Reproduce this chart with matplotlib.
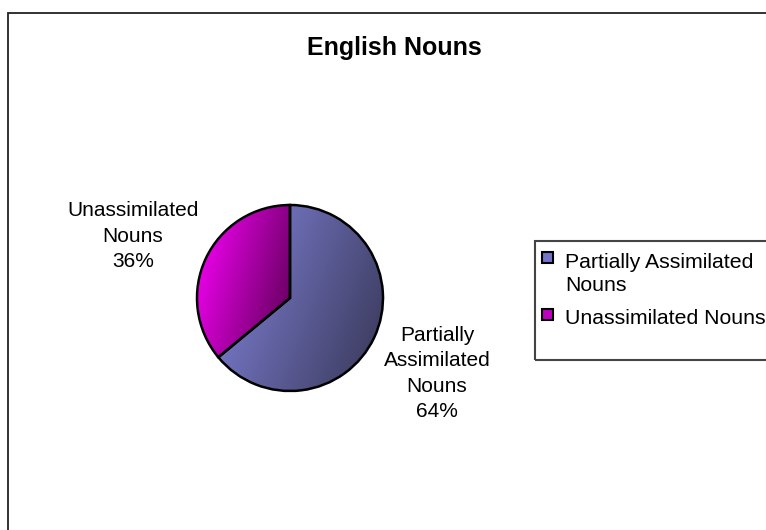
import numpy as np
import matplotlib.pyplot as plt
from matplotlib.colors import LinearSegmentedColormap
from matplotlib.patches import Rectangle

plt.rcParams['font.family'] = ['Liberation Sans', 'DejaVu Sans']

title = 'English Nouns'
categories = ['Partially Assimilated Nouns', 'Unassimilated Nouns']
pie_labels = ['Partially\nAssimilated\nNouns', 'Unassimilated\nNouns']
shares = [64, 36]
legend_labels = ['Partially Assimilated\nNouns', 'Unassimilated Nouns']

# light -> dark gradient for each slice, plus a flat colour for the legend keys
slice_colors = [('#8585e0', '#414168'), ('#ff00ff', '#6e0068')]
key_colors = ['#7474c8', '#c000c0']

W, H = 766, 530
fig = plt.figure(figsize=(W / 100, H / 100), dpi=100)
ax = fig.add_axes([0, 0, 1, 1])

def py(y):
    # pixel row (from the top) -> data y
    return H - y

cx, cy, r = 290, py(298), 93
wedges, _ = ax.pie(shares, startangle=90, counterclock=False, radius=r,
                   center=(cx, cy), frame=True,
                   wedgeprops=dict(edgecolor='black', linewidth=1.8))
ax.set_xlim(0, W)
ax.set_ylim(0, H)
ax.set_aspect('equal')
ax.axis('off')

# outer chart frame
ax.add_patch(Rectangle((7.5, -20), 800, py(12.5) + 20, fill=False,
                       edgecolor='#222222', lw=1.3))

# shade each wedge with a gradient clipped to its outline
for w, (c0, c1) in zip(wedges, slice_colors):
    cmap = LinearSegmentedColormap.from_list('g', [c0, c1])
    ext = w.get_path().get_extents()
    gx, gy = np.meshgrid(np.linspace(0, 1, 200), np.linspace(0, 1, 200))
    grad = np.clip(0.8 * gx + 0.35 * (1 - gy), 0, 1)
    im = ax.imshow(grad, cmap=cmap, extent=[ext.x0, ext.x1, ext.y0, ext.y1],
                   origin='lower', aspect='auto', zorder=w.get_zorder() - 0.1,
                   vmin=0, vmax=1)
    im.set_clip_path(w)
    w.set_facecolor('none')

# slice labels (va='baseline' sits on the last line)
ax.text(437, py(417), f'{pie_labels[0]}\n{shares[0]}%', ha='center',
        va='baseline', fontsize=15, linespacing=1.43)
ax.text(133, py(267), f'{pie_labels[1]}\n{shares[1]}%', ha='center',
        va='baseline', fontsize=15, linespacing=1.43)

ax.text(394, py(55), title, ha='center', va='baseline', fontsize=18,
        fontweight='bold')

# legend box
ax.add_patch(Rectangle((535, py(360)), 300, 119, fill=False,
                       edgecolor='#444444', lw=1.5))
for col, lab, ysq, ytx in zip(key_colors, legend_labels, [257, 314], [291, 324]):
    ax.add_patch(Rectangle((542, py(ysq) - 5.5), 11, 11, facecolor=col,
                           edgecolor='black', lw=1.5))
    ax.text(565, py(ytx), lab, ha='left', va='baseline', fontsize=15.3,
            linespacing=1.3)

fig.savefig('out.png', dpi=100)
